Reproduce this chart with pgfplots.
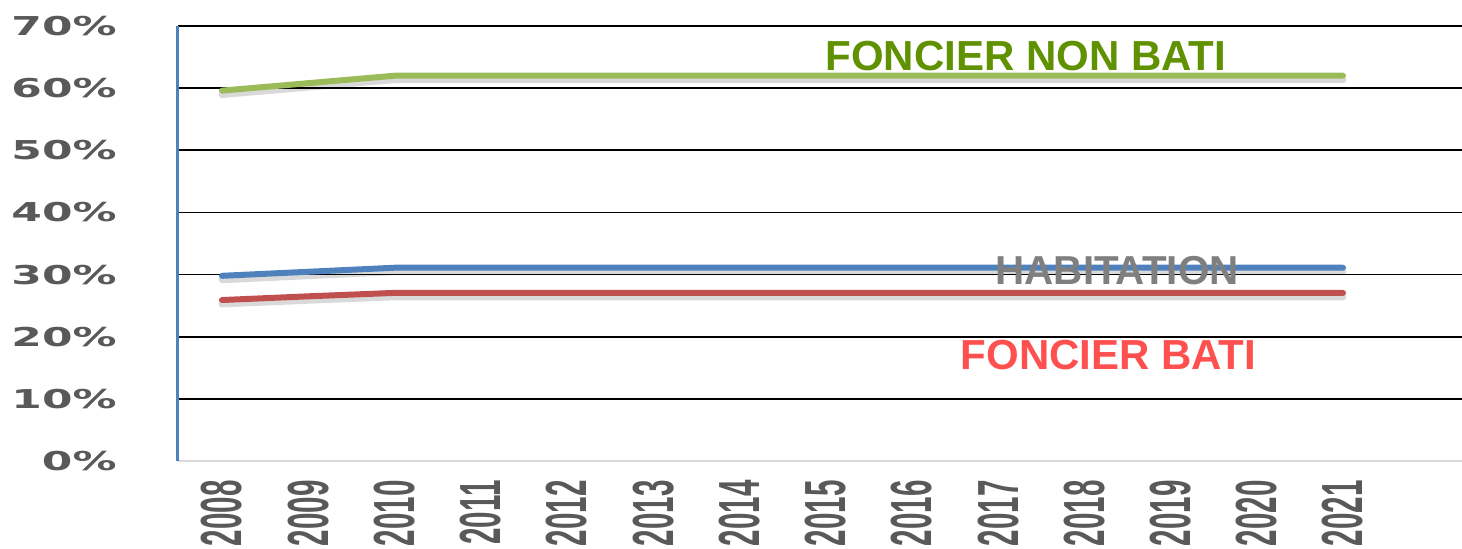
\documentclass[border=0pt]{standalone}
\usepackage{pgfplots}
\pgfplotsset{compat=1.18}
\usepackage{fontspec}
\setmainfont{Liberation Sans}
\newfontfamily\dejavu{DejaVu Sans}
\definecolor{cgreen}{HTML}{9BBB59}
\definecolor{cblue}{HTML}{4F81BD}
\definecolor{cred}{HTML}{C0504D}
\definecolor{tgreen}{HTML}{5F9100}
\definecolor{tgray}{HTML}{7F7F7F}
\definecolor{tred}{HTML}{FF5050}
\definecolor{lab}{HTML}{595959}
\newcommand{\yl}[1]{\scalebox{1.69}[1]{#1\%}}
\newcommand{\xl}[1]{\scalebox{0.51}[1]{#1}}
\begin{document}
\begin{tikzpicture}
\path[use as bounding box] (-89pt,-44pt) rectangle (642pt,230.5pt);
\begin{axis}[
  at={(0,0)}, anchor=south west,
  scale only axis, width=642pt, height=217.5pt,
  xmin=-0.51, xmax=14.38, ymin=0, ymax=70,
  axis x line=bottom, axis y line=left,
  x axis line style={draw=black!15, line width=1pt, -},
  y axis line style={draw=cblue, line width=1.5pt, -},
  major tick length=0pt,
  xtick={0,...,13},
  xticklabels={\xl{2008},\xl{2009},\xl{2010},\xl{2011},\xl{2012},\xl{2013},\xl{2014},\xl{2015},\xl{2016},\xl{2017},\xl{2018},\xl{2019},\xl{2020},\xl{2021}},
  xticklabel style={rotate=90, anchor=east, font=\fontsize{29}{30}\selectfont\bfseries, text=lab, inner sep=0pt},
  xticklabel shift=9.5pt,
  ytick={0,10,...,70},
  yticklabels={\yl{0},\yl{10},\yl{20},\yl{30},\yl{40},\yl{50},\yl{60},\yl{70}},
  yticklabel style={font=\dejavu\fontsize{13}{14}\selectfont\bfseries, text=lab, anchor=east, inner sep=0pt},
  yticklabel shift=30.5pt,
  ymajorgrids, grid style={black, line width=0.9pt},
  clip=false,
]
\pgfplotsset{every axis plot/.append style={line cap=round, line join=round}}
% shadows
\addplot[black, opacity=0.15, line width=3.4pt, yshift=-2pt] coordinates {(0,59.6)(1,60.8)(2,62.0)(3,62.0)(4,62.0)(5,62.0)(6,62.0)(7,62.0)(8,62.0)(9,62.0)(10,62.0)(11,62.0)(12,62.0)(13,62.0)};
\addplot[black, opacity=0.15, line width=3.4pt, yshift=-2pt] coordinates {(0,29.8)(1,30.45)(2,31.1)(3,31.1)(4,31.1)(5,31.1)(6,31.1)(7,31.1)(8,31.1)(9,31.1)(10,31.1)(11,31.1)(12,31.1)(13,31.1)};
\addplot[black, opacity=0.15, line width=3.4pt, yshift=-2pt] coordinates {(0,25.9)(1,26.5)(2,27.05)(3,27.05)(4,27.05)(5,27.05)(6,27.05)(7,27.05)(8,27.05)(9,27.05)(10,27.05)(11,27.05)(12,27.05)(13,27.05)};
% series
\addplot[cgreen, line width=3pt] coordinates {(0,59.6)(1,60.8)(2,62.0)(3,62.0)(4,62.0)(5,62.0)(6,62.0)(7,62.0)(8,62.0)(9,62.0)(10,62.0)(11,62.0)(12,62.0)(13,62.0)};
\addplot[cblue, line width=3pt] coordinates {(0,29.8)(1,30.45)(2,31.1)(3,31.1)(4,31.1)(5,31.1)(6,31.1)(7,31.1)(8,31.1)(9,31.1)(10,31.1)(11,31.1)(12,31.1)(13,31.1)};
\addplot[cred, line width=3pt] coordinates {(0,25.9)(1,26.5)(2,27.05)(3,27.05)(4,27.05)(5,27.05)(6,27.05)(7,27.05)(8,27.05)(9,27.05)(10,27.05)(11,27.05)(12,27.05)(13,27.05)};
\node[text=tgreen, font=\fontsize{21}{22}\selectfont\bfseries] at (axis cs:9.32,65.2) {FONCIER NON BATI};
\node[text=tgray, font=\fontsize{20.2}{21}\selectfont\bfseries] at (axis cs:10.38,30.6) {HABITATION};
\node[text=tred, font=\fontsize{21}{22}\selectfont\bfseries] at (axis cs:10.28,17.1) {FONCIER BATI};
\end{axis}
\end{tikzpicture}
\end{document}
